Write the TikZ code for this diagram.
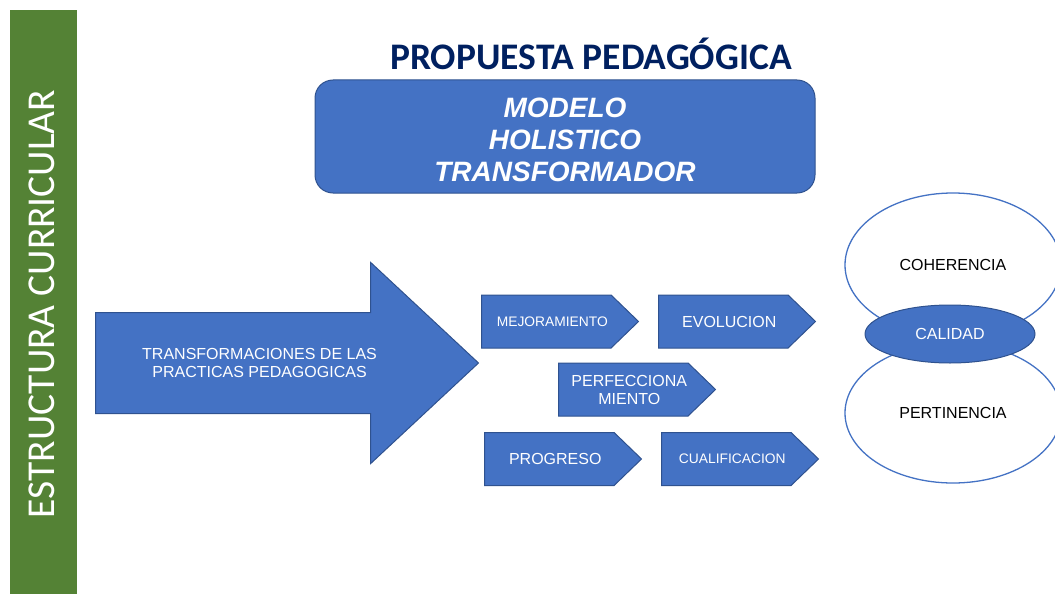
\documentclass[tikz,border=0pt]{standalone}
\usepackage{fontspec}
\setmainfont{Liberation Sans}
\newfontfamily\calibri{Carlito}
\usetikzlibrary{positioning, shapes.arrows, shapes.symbols, shapes.geometric}
\definecolor{bluefill}{HTML}{4472C4}
\definecolor{blueline}{HTML}{2F528F}
\definecolor{greenbar}{HTML}{548235}
\definecolor{navy}{HTML}{002060}
\newcommand{\fsz}[2]{\fontsize{#1}{#2}\selectfont}
\newcommand{\pad}{\hspace*{12pt}}
\tikzstyle{diagram}=[x=1pt, y=-1pt]
\tikzstyle{tag}=[signal, signal to=east, signal pointer angle=88, fill=bluefill, draw=blueline,
  line width=1pt, text=white, minimum width=157pt, minimum height=53pt, inner sep=0pt,
  align=center, anchor=west, font=\fsz{16}{18}]
\tikzstyle{ring}=[ellipse, draw=bluefill, line width=1.3pt, fill=white, minimum width=216pt,
  minimum height=144pt, font=\fsz{16}{18}]

\begin{document}
\begin{tikzpicture}[diagram]
  \useasboundingbox (0,0) rectangle (1055,594);
  % side bar
  \fill[greenbar] (10,10) rectangle (77,594);
  \node (side) [rotate=90, text=white, font=\calibri\fsz{39.5}{44}] at (42,304) {ESTRUCTURA CURRICULAR};

  % title and model box
  \node (title) [text=navy, font=\calibri\bfseries\fsz{37.5}{42}] at (591,54) {PROPUESTA PEDAGÓGICA};
  \path[rounded corners=18pt, fill=bluefill, draw=blueline, line width=1pt] (315,80) rectangle (815,193);
  \node (modelo) [text=white, align=center, font=\bfseries\itshape\fsz{28}{32}] at (565,139.5)
    {MODELO\\HOLISTICO\\TRANSFORMADOR};

  % big arrow
  \node (big) [single arrow, fill=bluefill, draw=blueline, line width=1pt, minimum height=383pt,
    minimum width=200pt, single arrow head extend=50pt, single arrow tip angle=86,
    inner xsep=0pt, inner ysep=50pt, anchor=tail] at (95,363) {};
  \node (bigtext) [right=47pt of big.tail, inner sep=0pt, text=white, align=center,
    font=\fsz{16}{18}] {TRANSFORMACIONES DE LAS\\PRACTICAS PEDAGOGICAS};

  % steps
  \node[tag, font=\fsz{13.8}{16}] (mejora) at (481,321.5) {\pad MEJORAMIENTO};
  \node[tag]                      (evol)   at (658,321.5) {\pad EVOLUCION};
  \node[tag]                      (perf)   at (558,389.5) {\pad PERFECCIONA\\\pad MIENTO};
  \node[tag]                      (prog)   at (484,459)   {\pad PROGRESO};
  \node[tag, font=\fsz{13.8}{16}] (cual)   at (661,459)   {\pad CUALIFICACION};

  % quality
  \node[ring] (coher) at (953,265) {COHERENCIA};
  \node[ring, minimum height=140pt] (pert) at (953,413) {PERTINENCIA};
  \node (calidad) [ellipse, fill=bluefill, draw=blueline, line width=1pt, minimum width=170pt,
    minimum height=58pt, text=white, font=\fsz{16}{18}] at (950,334) {CALIDAD};
\end{tikzpicture}
\end{document}
